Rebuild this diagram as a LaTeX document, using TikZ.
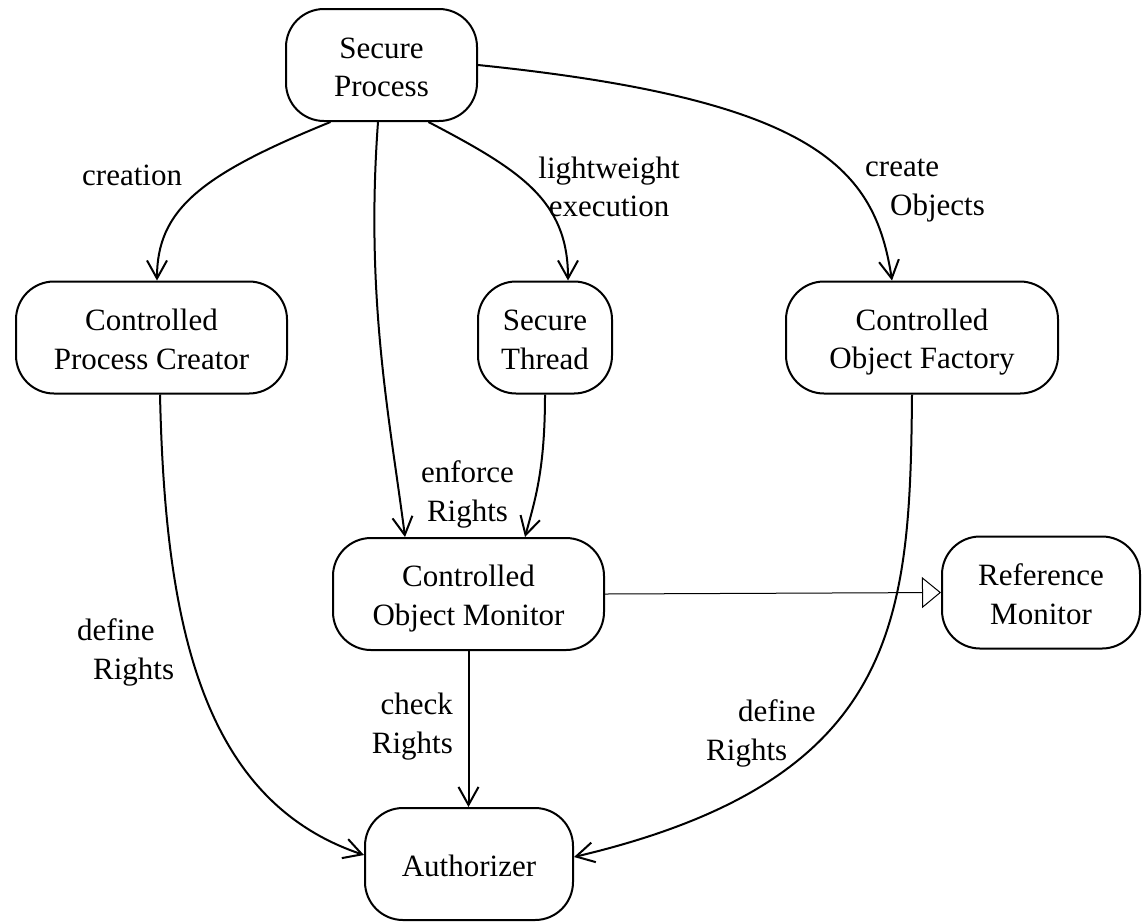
\documentclass[tikz,border=0pt]{standalone}
\usepackage{fontspec}
\setmainfont{Liberation Serif}
\usetikzlibrary{arrows.meta}
% fixed top and bottom struts so every two-line text sits the same way
\newcommand\tp{\rule{0pt}{31pt}}
\newcommand\bt{\rule[-6.5pt]{0pt}{6.5pt}}
\begin{document}
\begin{tikzpicture}[x=1pt,y=-1pt,
  state/.style={draw, line width=2pt, rounded corners=38pt, inner sep=0pt,
    minimum height=112pt, align=center, font=\fontsize{31}{38.5}\selectfont},
  lbl/.style={inner sep=0pt, font=\fontsize{31}{38.5}\selectfont},
  flow/.style={line width=2pt, -{Straight Barb[length=18pt,width=20pt]}},
  gen/.style={line width=1pt, -{Triangle[open,length=19pt,width=31pt,fill=white]}}]

\fill[white] (0,0) rectangle (1142,922);
\useasboundingbox (0,0) rectangle (1142,922);

% states
\node[state, minimum width=191pt] (sp)  at (381.5,65)  {\tp Secure\\Process\bt};
\node[state, minimum width=271pt] (cpc) at (151.5,337.5) {\tp Controlled\\Process Creator\bt};
\node[state, minimum width=134pt] (st)  at (545,337.5)  {\tp Secure\\Thread\bt};
\node[state, minimum width=272pt] (cof) at (922,337.5)  {\tp Controlled\\Object Factory\bt};
\node[state, minimum width=271pt] (com) at (468.5,594)  {\tp Controlled\\Object Monitor\bt};
\node[state, minimum width=198pt] (rm)  at (1041,592.5) {\tp Reference\\Monitor\bt};
\node[state, minimum width=208pt] (au)  at (469,864)    {\tp Authorizer\bt};

% flows
\draw[flow] ([xshift=-51pt]sp.south) .. controls (200,175) and (157,210) .. ([xshift=5.5pt]cpc.north);
\draw[flow] ([xshift=47pt]sp.south) .. controls (520,170) and (568,200) .. ([xshift=23pt]st.north);
\draw[flow] (sp.east) .. controls (820,100) and (875,170) .. ([xshift=-30pt]cof.north);
\draw[flow] ([xshift=-3.5pt]sp.south) .. controls (365,300) and (390,420) .. ([xshift=-63.5pt]com.north);
\draw[flow] (st.south) .. controls (545,470) and (535,500) .. ([xshift=56.5pt]com.north);
\draw[flow] ([xshift=8.5pt]cpc.south) .. controls (165,620) and (200,800) .. ([yshift=9pt]au.west);
\draw[flow] ([xshift=-10pt]cof.south) .. controls (910,620) and (900,780) .. ([yshift=7pt]au.east);
\draw[flow] (com.south) -- (com.south |- au.north);
\draw[gen] (com.east) -- (rm.west);

% flow labels
\node[lbl, anchor=west] (l1) at (82,172.75) {\tp creation\bt};
\node[lbl, align=center] (l2) at (609,185) {\tp lightweight\\execution\bt};
\node[lbl, align=left, anchor=west] (l3) at (865,184) {\tp create\\\hspace*{25pt}Objects\bt};
\node[lbl, align=center] (l4) at (467.5,490) {\tp enforce\\Rights\bt};
\node[lbl, align=left, anchor=west] (l5) at (77,648) {\tp define\\\hspace*{16pt}Rights\bt};
\node[lbl, align=right, anchor=east] (l6) at (453,722) {\tp check\\Rights\bt};
\node[lbl, align=left, anchor=west] (l7) at (706,729) {\tp\hspace*{32pt}define\\Rights\bt};
\end{tikzpicture}
\end{document}
